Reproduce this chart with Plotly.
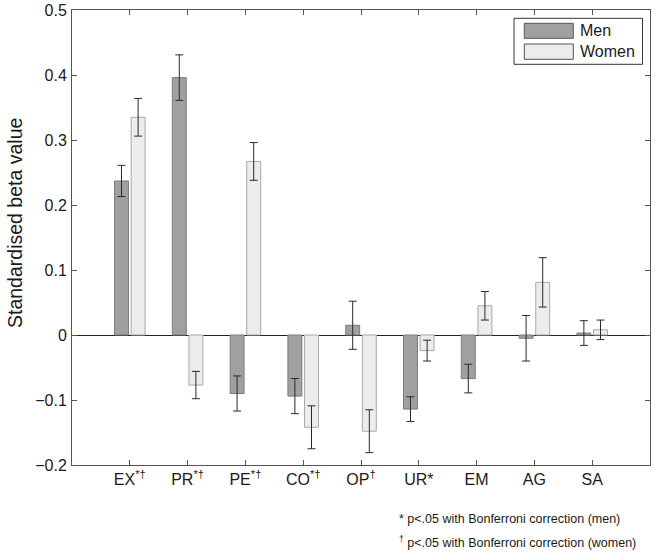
import plotly.graph_objects as go

categories = ["EX", "PR", "PE", "CO", "OP", "UR", "EM", "AG", "SA"]
tick_labels = ["EX<sup>*†</sup>", "PR<sup>*†</sup>", "PE<sup>*†</sup>", "CO<sup>*†</sup>",
               "OP<sup>†</sup>", "UR*", "EM", "AG", "SA"]
men = [0.237, 0.396, -0.090, -0.094, 0.015, -0.114, -0.067, -0.005, 0.003]
men_err = [0.024, 0.035, 0.027, 0.027, 0.037, 0.019, 0.022, 0.035, 0.019]
women = [0.335, -0.077, 0.267, -0.142, -0.148, -0.024, 0.045, 0.081, 0.008]
women_err = [0.029, 0.021, 0.029, 0.033, 0.033, 0.016, 0.022, 0.038, 0.015]
y_ticks = [-0.2, -0.1, 0, 0.1, 0.2, 0.3, 0.4, 0.5]
footnotes = ["* p<.05 with Bonferroni correction (men)",
             "<sup>†</sup> p<.05 with Bonferroni correction (women)"]

FONT = "Liberation Sans, Arial, sans-serif"
MEN_FILL, MEN_EDGE = "#a0a0a0", "#7c7c7c"
WOM_FILL, WOM_EDGE = "#ececec", "#a8a8a8"

fig = go.Figure()
fig.add_trace(go.Bar(
    x=categories, y=men, name="Men",
    marker=dict(color=MEN_FILL, line=dict(color=MEN_EDGE, width=1)),
    error_y=dict(type="data", array=men_err, visible=True, color="#2a2a2a", thickness=1, width=4),
))
fig.add_trace(go.Bar(
    x=categories, y=women, name="Women",
    marker=dict(color=WOM_FILL, line=dict(color=WOM_EDGE, width=1)),
    error_y=dict(type="data", array=women_err, visible=True, color="#2a2a2a", thickness=1, width=4),
))

L, R, T, B = 72, 9, 10, 87
W, H = 659, 552
pw, ph = W - L - R, H - T - B

def px(xp):
    return (xp - L) / pw

def py(yp):
    return (H - B - yp) / ph

shapes = [
    dict(type="rect", xref="paper", yref="paper", x0=px(514), x1=px(642.5), y0=py(64.3), y1=py(18.3),
         line=dict(color="#333", width=1), fillcolor="white"),
    dict(type="rect", xref="paper", yref="paper", x0=px(524.3), x1=px(573.3), y0=py(38.3), y1=py(23.3),
         line=dict(color="#555", width=1), fillcolor=MEN_FILL),
    dict(type="rect", xref="paper", yref="paper", x0=px(524.3), x1=px(573.3), y0=py(59.3), y1=py(44),
         line=dict(color="#555", width=1), fillcolor=WOM_FILL),
]
annotations = [
    dict(text="Men", xref="paper", yref="paper", x=px(578), y=py(30.8), xanchor="left", yanchor="middle",
         showarrow=False, font=dict(size=16, color="#1a1a1a", family=FONT)),
    dict(text="Women", xref="paper", yref="paper", x=px(578), y=py(51.7), xanchor="left", yanchor="middle",
         showarrow=False, font=dict(size=16, color="#1a1a1a", family=FONT)),
    dict(text="Standardised beta value", xref="paper", yref="paper", x=px(15), y=py(223),
         xanchor="center", yanchor="middle", textangle=-90, showarrow=False,
         font=dict(size=19.5, color="#1a1a1a", family=FONT)),
    dict(text=footnotes[0], xref="paper", yref="paper", x=px(397), y=py(519), xanchor="left",
         yanchor="middle", showarrow=False, font=dict(size=12.5, color="#1a1a1a", family=FONT)),
    dict(text=footnotes[1], xref="paper", yref="paper", x=px(397), y=py(542), xanchor="left",
         yanchor="middle", showarrow=False, font=dict(size=12.5, color="#1a1a1a", family=FONT)),
]

fig.update_layout(
    width=W, height=H,
    margin=dict(l=L, r=R, t=T, b=B, pad=0, autoexpand=False),
    paper_bgcolor="white", plot_bgcolor="white",
    barmode="group", bargap=0.425, bargroupgap=0.16,
    showlegend=False,
    font=dict(family=FONT, color="#1a1a1a"),
    shapes=shapes, annotations=annotations,
    xaxis=dict(
        type="category", range=[-1, 9], tickvals=categories, ticktext=tick_labels,
        ticks="inside", ticklen=5, tickcolor="#555", tickwidth=1,
        showline=True, linecolor="#555", linewidth=1, mirror="ticks", automargin=False,
        showgrid=False, tickfont=dict(size=16, family=FONT, color="#1a1a1a"),
    ),
    yaxis=dict(
        range=[-0.2, 0.5], tickvals=y_ticks, automargin=False, ticklabelstandoff=1,
        ticks="inside", ticklen=5, tickcolor="#555", tickwidth=1,
        showline=True, linecolor="#555", linewidth=1, mirror="ticks",
        showgrid=False, zeroline=True, zerolinecolor="#222", zerolinewidth=1,
        tickfont=dict(size=16, family=FONT, color="#1a1a1a"),
    ),
)

fig.write_html("out.html", config={"displayModeBar": False},
               post_script="document.body.style.margin='0px';")
